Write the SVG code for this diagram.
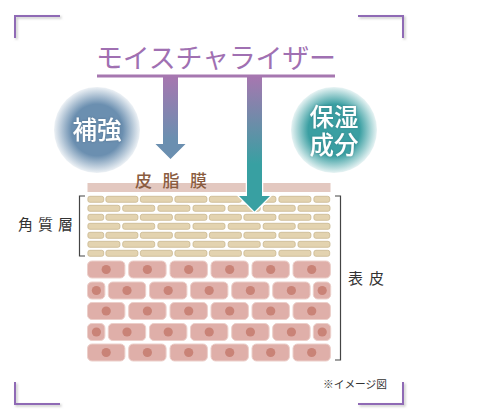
<svg xmlns="http://www.w3.org/2000/svg" width="500" height="420" viewBox="0 0 500 420">
<style>
text{font-family:"Noto Sans CJK JP","Noto Sans",sans-serif}
.title{font-size:27px;fill:#a070b2;font-weight:400}
.badge{font-size:24.500px;fill:#fff;font-weight:500;text-anchor:middle;filter:url(#soft)}
.label{font-size:15px;fill:#333;font-weight:400}
.film{font-size:17px;fill:#8a5c40;font-weight:500}
.note{font-size:10.700px;fill:#333}
.corner{fill:none;stroke:#8f6bb5;stroke-width:2;filter:url(#cshadow)}
.bracket{fill:none;stroke:#444;stroke-width:1.200}
.brick{fill:#e3d3b0;stroke:#c9b88f;stroke-width:.8}
.cell{fill:#dfafa9;stroke:#eccfca;stroke-width:1}
.nucleus{fill:#c98377}
</style>
<defs>
<filter id="cshadow" x="-20%" y="-20%" width="140%" height="140%"><feDropShadow dx="1.500" dy="1.500" stdDeviation="1" flood-color="#888" flood-opacity=".5"/></filter>
<filter id="soft" x="-20%" y="-20%" width="140%" height="140%"><feDropShadow dx="0" dy="0" stdDeviation="1" flood-color="#345" flood-opacity=".35"/></filter>
<radialGradient id="blueGlow"><stop offset=".6" stop-color="#6b8fb0"/><stop offset="1" stop-color="#6b8fb0" stop-opacity=".12"/></radialGradient>
<radialGradient id="tealGlow"><stop offset=".6" stop-color="#3a9fa2"/><stop offset="1" stop-color="#3a9fa2" stop-opacity=".12"/></radialGradient>
<linearGradient id="arrowBlue" x1="0" y1="77" x2="0" y2="159" gradientUnits="userSpaceOnUse"><stop offset="0" stop-color="#a677b0"/><stop offset=".75" stop-color="#6b8fb0"/></linearGradient>
<linearGradient id="arrowTeal" x1="0" y1="77" x2="0" y2="211" gradientUnits="userSpaceOnUse"><stop offset="0" stop-color="#a677b0"/><stop offset=".65" stop-color="#38a0a2"/></linearGradient>
<rect id="b16" class="brick" x=".4" y=".3" width="15.800" height="6" rx="2"/>
<rect id="b33" class="brick" x=".4" y=".3" width="32" height="6" rx="2"/>
<g id="oddCourse"><use href="#b16" x="87.500"/><use href="#b33" x="105.500"/><use href="#b33" x="140"/><use href="#b33" x="174.500"/><use href="#b33" x="209"/><use href="#b33" x="243.500"/><use href="#b33" x="278.500"/><use href="#b16" x="313.500"/></g>
<g id="evenCourse"><use href="#b33" x="87.500"/><use href="#b33" x="122.300"/><use href="#b33" x="157.500"/><use href="#b33" x="192.600"/><use href="#b33" x="227.800"/><use href="#b33" x="262.800"/><use href="#b33" x="297.600"/></g>
<g id="c"><rect class="cell" width="37.400" height="17" rx="4.500"/><circle class="nucleus" cx="18.700" cy="8.500" r="4.600"/></g>
<g id="s"><rect class="cell" width="17.400" height="17" rx="4.500"/><circle class="nucleus" cx="8.900" cy="8.500" r="4.600"/></g>
<g id="wideRow"><use href="#c" x="87.500"/><use href="#c" x="128.700"/><use href="#c" x="170"/><use href="#c" x="211"/><use href="#c" x="252"/><use href="#c" x="293"/></g>
<g id="narrowRow"><use href="#s" x="87.500"/><use href="#c" x="108.300"/><use href="#c" x="149.500"/><use href="#c" x="190.500"/><use href="#c" x="231.700"/><use href="#c" x="272.700"/><use href="#s" x="313.300"/></g>
</defs>

<g id="frame">
<path class="corner" d="M60 16H15V38"/>
<path class="corner" d="M358 16H403V38"/>
<path class="corner" d="M15 382V404H60"/>
<path class="corner" d="M403 382V404H358"/>
</g>

<g id="badge-hokyo"><circle cx="97" cy="130" r="43" fill="url(#blueGlow)"/><text class="badge" x="97" y="139">補強</text></g>
<g id="badge-hoshitsu"><circle cx="334" cy="130" r="43" fill="url(#tealGlow)"/><text class="badge"><tspan x="334" y="126">保湿</tspan><tspan x="334" y="154">成分</tspan></text></g>

<g id="sebum"><rect x="87.500" y="183" width="243" height="9" fill="#e3c8c0"/><text class="film" x="135" y="187" textLength="72">皮脂膜</text></g>

<g id="stratum-corneum">
<use href="#oddCourse" y="196"/><use href="#evenCourse" y="205"/><use href="#oddCourse" y="214"/><use href="#evenCourse" y="223"/><use href="#oddCourse" y="232"/><use href="#evenCourse" y="241"/><use href="#oddCourse" y="250"/>
</g>
<g id="epidermis">
<use href="#wideRow" y="261"/><use href="#narrowRow" y="282"/><use href="#wideRow" y="302.500"/><use href="#narrowRow" y="323.500"/><use href="#wideRow" y="344"/>
</g>

<g id="connectors">
<path d="M163 77H178V144H185.500L170.500 159L155.500 144H163Z" fill="url(#arrowBlue)"/>
<path d="M247 77H262V196H270L254.500 211.500L239 196H247Z" fill="url(#arrowTeal)" stroke="#fff" stroke-width="2.500" paint-order="stroke"/>
</g>

<g id="title"><text class="title" x="96" y="68" textLength="240" lengthAdjust="spacing">モイスチャライザー</text>
<rect x="97" y="74.500" width="238" height="3" fill="#a677b0"/></g>

<g id="labels">
<path class="bracket" d="M85 196H79.500V256H85"/>
<path class="bracket" d="M335 196H340.500V360H335"/>
<text class="label" x="18" y="230" textLength="55">角質層</text>
<text class="label" x="348" y="284" textLength="36">表皮</text>
<text class="note" x="323" y="388">※イメージ図</text>
</g>
</svg>
